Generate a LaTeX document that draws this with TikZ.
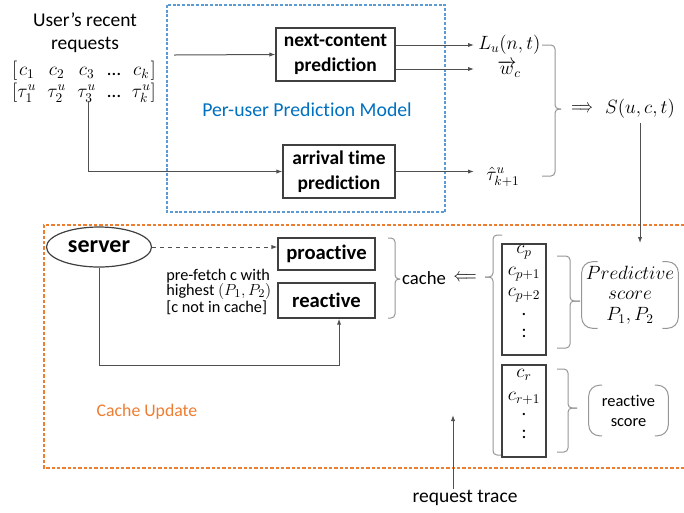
\documentclass[tikz,border=0pt]{standalone}
\usepackage{graphicx}
\usepackage{fontspec}
\setmainfont{Carlito}[Ligatures=NoCommon]
\usetikzlibrary{arrows.meta,shapes.geometric}
\definecolor{cblue}{RGB}{91,155,213}
\definecolor{tblue}{RGB}{0,112,192}
\definecolor{corange}{RGB}{237,125,49}
\definecolor{dgray}{RGB}{64,64,64}
\definecolor{agray}{RGB}{80,80,80}
\definecolor{bgray}{RGB}{150,150,150}
\tikzset{
  lbl/.style={font=\fontsize{14.6}{17.5}\selectfont, align=center, inner sep=1pt},
  mth/.style={font=\fontsize{14.5}{17}\selectfont, inner sep=3pt},
  cmath/.style={font=\fontsize{14}{16}\selectfont, inner sep=0pt},
  bbox/.style={draw=dgray, line width=0.9pt, font=\bfseries\fontsize{14.6}{18.75}\selectfont, align=center, inner sep=0pt},
  sbox/.style={draw=dgray, line width=0.9pt, font=\bfseries\fontsize{15.5}{18}\selectfont, inner sep=0pt, minimum width=72.75pt},
  cbox/.style={draw=dgray, line width=0.9pt, minimum width=33pt, inner sep=0pt},
  arr/.style={draw=agray, line width=0.75pt, -{Latex[length=4.5pt,width=3.2pt]}},
  bracepath/.style={draw=bgray, line width=0.75pt, rounded corners=3pt},
  bracket/.style={draw=bgray, line width=0.75pt, rounded corners=8pt},
  frameblue/.style={draw=cblue, line width=0.9pt, dash pattern=on 2.2pt off 1.3pt},
  frameorange/.style={draw=corange, line width=0.9pt, dash pattern=on 2.6pt off 1.4pt},
}
\begin{document}
\begin{tikzpicture}[x=0.75pt,y=-0.75pt]
\useasboundingbox (0,0) rectangle (684,512);

% ---------- top part ----------
\draw[frameblue] (167,5) rectangle (445,212);
\node[lbl] (usr) at (85,33) {User’s recent\\requests};
\node[font=\fontsize{14.5}{17}\selectfont, inner sep=0pt] (mat) at (84,82)
 {$\begin{array}{@{}c@{}c@{\hspace{8.5pt}}c@{\hspace{8.5pt}}c@{\hspace{8.5pt}}c@{\hspace{8.5pt}}c@{}c@{}}
 {[} & c_1 & c_2 & c_3 & \mbox{…} & c_k & {]} \\
 {[} & \tau_1^u & \tau_2^u & \tau_3^u & \mbox{…} & \tau_k^u & {]}
 \end{array}$};
\coordinate (t3) at (88,101);
\coordinate (in1) at (174,55);

\node[bbox, minimum width=89.25pt, minimum height=39.75pt] (nc) at (335.5,54.5) {next-content\\prediction};
\node[bbox, minimum width=84pt, minimum height=39.75pt] (at) at (339,171.5) {arrival time\\prediction};
\node[lbl, text=tblue, font=\fontsize{14.8}{17}\selectfont] (pum) at (307,110) {Per-user Prediction Model};

\node[mth, anchor=west] (L) at (474,45) {$L_u(n,t)$};
\node[mth] (w) at (509,69) {$\overrightarrow{w}_{\!c}$};
\node[mth, anchor=west] (tau) at (482,177) {$\hat{\tau}^u_{k+1}$};

\draw[arr] (in1) -- (nc.west);
\draw[arr] (nc.east |- L.west) -- (L.west);
\draw[arr] (nc.east |- w) -- (w -| L.west);
\draw[arr] (t3) |- (at.west);
\draw[arr] (at.east) -- (at.east -| L.west);

% big brace
\draw[bracepath] (542,45) -| (555,109) -- (561,109);
\draw[bracepath] (561,109) -- (555,109) |- (542,176);

\node[mth] (impl) at (582,109) {\scalebox{0.7}[1]{$\Longrightarrow$}};
\node[mth] (S) at (640,109) {$S(u,c,t)$};

% ---------- bottom part ----------
\draw[frameorange] (684,225) -- (44,225) -- (44,468) -- (684,468);
\node[lbl, text=corange, font=\fontsize{13.3}{16}\selectfont] (cu) at (147,412) {Cache Update};

\node[draw=dgray, line width=0.9pt, ellipse, minimum width=78.75pt, minimum height=30pt, inner sep=0pt,
      font=\bfseries\fontsize{18}{20}\selectfont] (srv) at (99,247) {server};
\node[sbox, minimum height=24pt] (pro) at (326.5,254) {proactive};
\node[sbox, minimum height=26.25pt] (rea) at (326.5,300.5) {reactive};
\node[anchor=west, align=left, inner sep=0pt, font=\fontsize{12.2}{11.1}\selectfont] (pf) at (166,292)
  {pre-fetch c with\\highest $(P_1,P_2)$\\{[}c not in cache{]}};

\draw[arr, dashed] (srv.east) -- (srv.east -| pro.west);
\coordinate (bot) at (200,365);
\draw[arr] (srv.south) |- (bot) -| ([xshift=9.4pt]rea.south);

\draw[bracepath] (388,238) -| (395,279) -- (400,279);
\draw[bracepath] (400,279) -- (395,279) |- (388,318);

\node[lbl, font=\fontsize{14}{16}\selectfont] (cache) at (424,278) {cache};
\node[mth] (impl2) at (465,278) {\scalebox{0.75}[1]{$\Longleftarrow$}};

\draw[bracepath] (502,235) -| (493,277) -- (485,277);
\draw[bracepath] (485,277) -- (493,277) |- (503,455);

\node[cbox, minimum height=83.25pt] (pbox) at (524,299.5) {};
\node[cbox, minimum height=69pt] (rbox) at (524,411) {};
\node[cmath] (cp) at (524,252) {$c_p$};
\node[cmath] (cp1) at (524,274) {$c_{p+1}$};
\node[cmath] (cp2) at (524,295) {$c_{p+2}$};
\node[cmath] (cpd) at (524,315) {.};
\node[cmath] (cpc) at (524,333) {:};
\node[cmath] (cr) at (524,375) {$c_r$};
\node[cmath] (cr1) at (524,398) {$c_{r+1}$};
\node[cmath] (crd) at (524,415) {.};
\node[cmath] (crc) at (524,434) {:};

\draw[bracepath] (557,256) -| (570,301) -- (580,301);
\draw[bracepath] (580,301) -- (570,301) |- (557,348);
\draw[bracepath] (557,369) -| (568,408) -- (577,408);
\draw[bracepath] (577,408) -- (568,408) |- (557,452);

\node[align=center, inner sep=0pt, minimum width=72pt, minimum height=49.5pt,
      font=\fontsize{14}{15.4}\selectfont] (ps) at (630,295)
  {$Predictive$\\$score$\\$P_1,P_2$};
\draw[bracket] ([xshift=12pt]ps.north west) -- (ps.north west) -- (ps.south west) -- ([xshift=12pt]ps.south west);
\draw[bracket] ([xshift=-12pt]ps.north east) -- (ps.north east) -- (ps.south east) -- ([xshift=-12pt]ps.south east);

\node[align=center, inner sep=0pt, minimum width=59.25pt, minimum height=37.5pt,
      font=\fontsize{12.3}{15}\selectfont] (rs) at (628.5,410.5) {reactive\\score};
\draw[bracket] ([xshift=10pt]rs.north west) -- (rs.north west) -- (rs.south west) -- ([xshift=10pt]rs.south west);
\draw[bracket] ([xshift=-10pt]rs.north east) -- (rs.north east) -- (rs.south east) -- ([xshift=-10pt]rs.south east);

\draw[arr] (S.south) -- ([yshift=14pt]ps.north -| S.south);

\node[lbl] (rt) at (465,498) {request trace};
\coordinate (rtop) at (453,415);
\draw[arr] (rt.north -| rtop) -- (rtop);
\end{tikzpicture}
\end{document}
